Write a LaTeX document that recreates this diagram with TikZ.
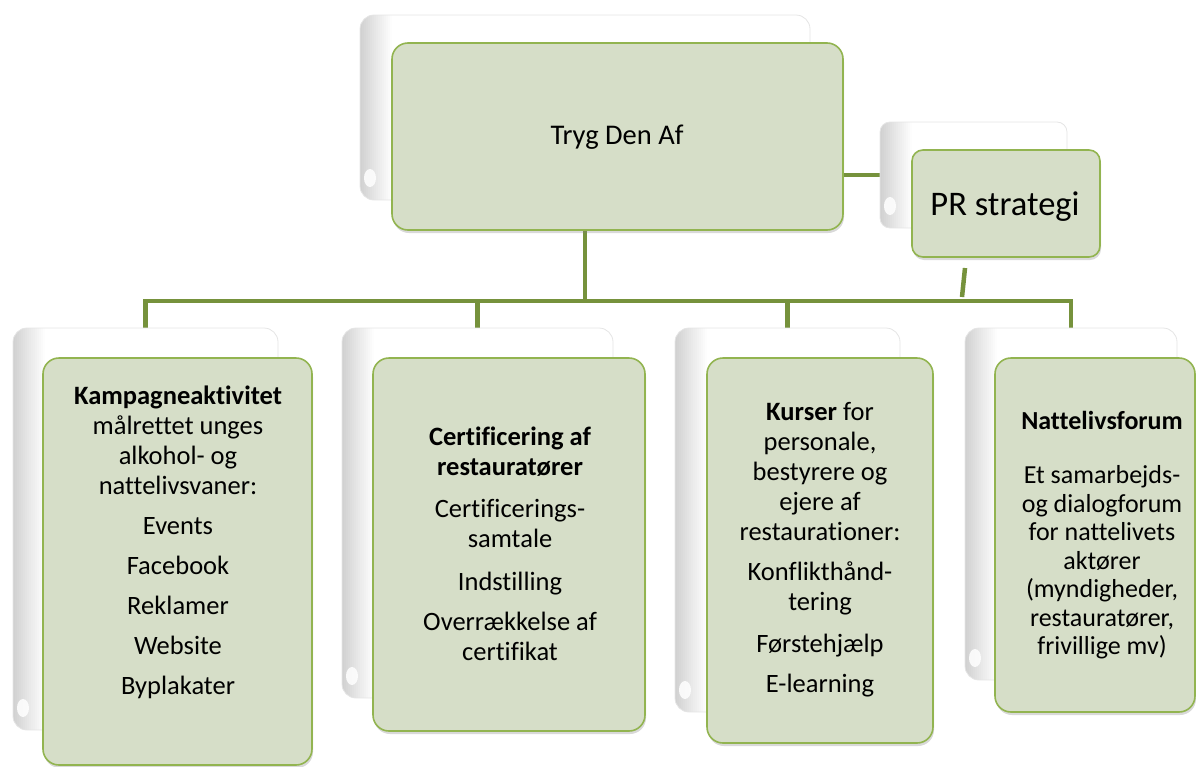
\documentclass[tikz,border=0pt]{standalone}
\usepackage{fontspec}
\setmainfont{Carlito}[Ligatures=NoCommon]
\usetikzlibrary{shadows}
\definecolor{boxfill}{HTML}{D6DEC8}
\definecolor{boxedge}{HTML}{92B450}
\definecolor{linecol}{HTML}{76923C}
\pgfdeclarelayer{bg}
\pgfsetlayers{bg,main}
\begin{document}
\begin{tikzpicture}[x=1pt,y=-1pt,
  backbox/.style={draw=gray!20, line width=0.8pt, fill=white, rounded corners=14pt, inner sep=0pt,
    path picture={
      \foreach \i in {0,...,15}{
        \pgfmathsetmacro{\g}{36-2.3*\i}
        \fill[sharp corners, gray!\g] ([xshift=2*\i pt]path picture bounding box.north west)
          rectangle ([xshift=2*\i pt+2.2pt]path picture bounding box.south west);
      }
      \fill[white, opacity=0.85, sharp corners] ([xshift=10pt, yshift=22pt]path picture bounding box.south west) ellipse (6pt and 9pt);
    }},
  frontbox/.style={draw=boxedge, line width=1.6pt, fill=boxfill, rounded corners=16pt, inner sep=0pt,
    drop shadow={shadow xshift=1pt, shadow yshift=-3pt, opacity=0.3}},
  conn/.style={draw=linecol, line width=4.5pt},
  txt/.style={align=center, font=\fontsize{26.5}{30}\selectfont, text=black, inner sep=0pt},
]
\useasboundingbox (0,0) rectangle (1196,766);

% top
\node[backbox, minimum width=450pt, minimum height=185pt] (topback) at (585,107.5) {};
\node[frontbox, minimum width=451pt, minimum height=187pt] (topfront) at (617.5,136.5) {};
\node[txt, font=\fontsize{28.5}{33}\selectfont] (ttop) at (617,137) {Tryg Den Af};

% PR
\node[backbox, rounded corners=10pt, minimum width=187pt, minimum height=106pt] (prback) at (973.5,175) {};
\node[frontbox, rounded corners=11pt, minimum width=188pt, minimum height=107pt] (prfront) at (1006,203.5) {};
\node[txt, font=\fontsize{34.5}{38}\selectfont] (tpr) at (1005,207) {PR strategi};

% bottom boxes
\node[backbox, minimum width=265pt, minimum height=402pt] (b1back) at (145.5,529) {};
\node[frontbox, minimum width=269pt, minimum height=407pt] (b1front) at (177.5,561.5) {};
\node[txt] (t1) at (178,542) {\textbf{Kampagneaktivitet}\\målrettet unges\\alkohol- og\\nattelivsvaner:\\[10pt]Events\\[10pt]Facebook\\[10pt]Reklamer\\[10pt]Website\\[10pt]Byplakater};

\node[backbox, minimum width=271pt, minimum height=370pt] (b2back) at (477.5,513) {};
\node[frontbox, minimum width=272pt, minimum height=373pt] (b2front) at (509,544.5) {};
\node[txt] (t2) at (510,544) {\textbf{Certificering af}\\\textbf{restauratører}\\[12pt]Certificerings-\\samtale\\[13pt]Indstilling\\[10pt]Overrækkelse af\\certifikat};

\node[backbox, minimum width=225pt, minimum height=384pt] (b3back) at (787.5,520) {};
\node[frontbox, minimum width=226pt, minimum height=385pt] (b3front) at (820,550.5) {};
\node[txt] (t3) at (820,550) {\textbf{Kurser} for\\personale,\\bestyrere og\\ejere af\\restaurationer:\\[10pt]Konflikthånd-\\tering\\[12pt]Førstehjælp\\[10pt]E-learning};

\node[backbox, minimum width=212pt, minimum height=352pt] (b4back) at (1071,504) {};
\node[frontbox, minimum width=200pt, minimum height=354pt] (b4front) at (1095,535) {};
\node[txt, font=\fontsize{26}{28.5}\selectfont] (t4) at (1102,535) {\textbf{Nattelivsforum}\\[26pt]Et samarbejds-\\og dialogforum\\for nattelivets\\aktører\\(myndigheder,\\restauratører,\\frivillige mv)};

% connectors
\coordinate (hbar) at (0,301);
\coordinate (pra) at (965,268);
\coordinate (prb) at (962,297);
\begin{pgfonlayer}{bg}
\draw[conn] (topback.south) -- (topback.south |- hbar);
\draw[conn] (b1back.north) -- (b1back.north |- hbar) -- (b4back.north |- hbar) -- (b4back.north);
\draw[conn] (b2back.north) -- (b2back.north |- hbar);
\draw[conn] (b3back.north) -- (b3back.north |- hbar);
\draw[conn] (prback.west) -- (prback.west -| topfront.east);
\draw[conn] (pra) -- (prb);
\end{pgfonlayer}
\end{tikzpicture}
\end{document}
